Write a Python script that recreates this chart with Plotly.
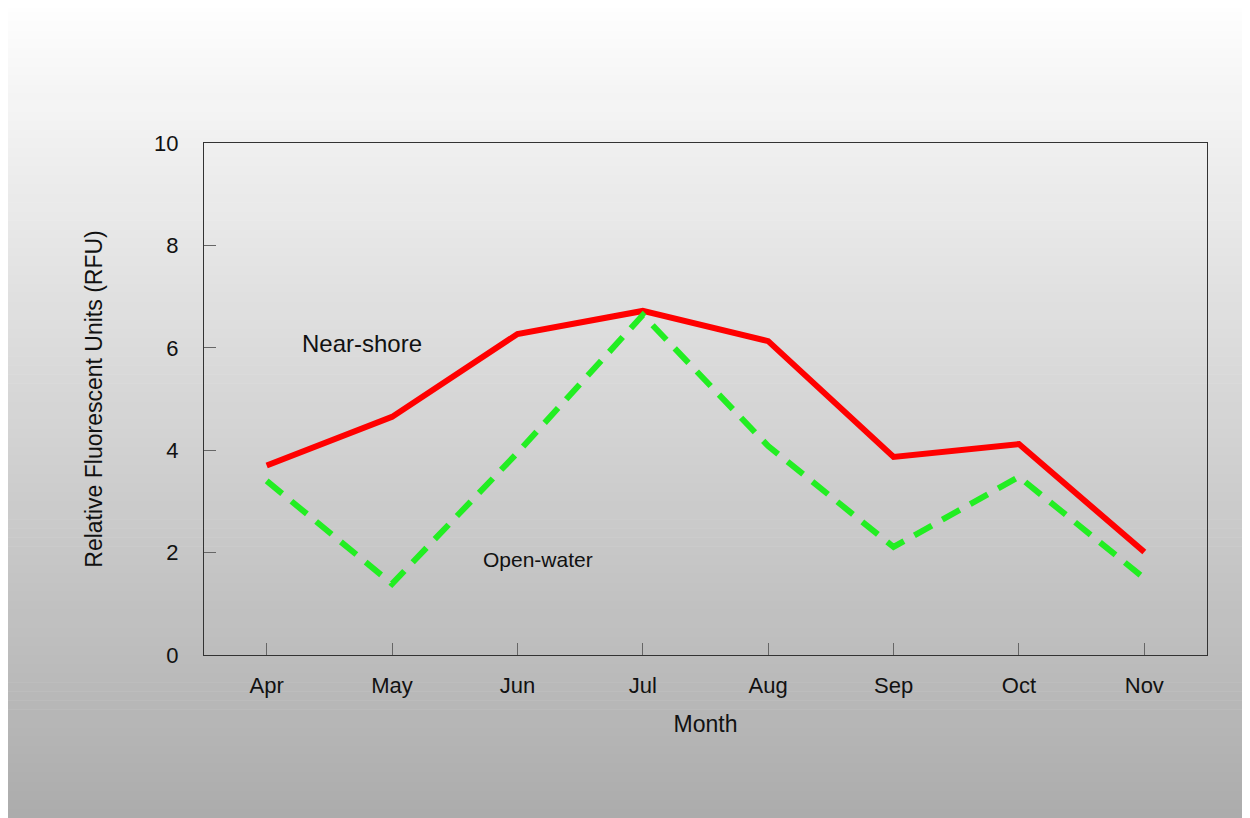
import plotly.graph_objects as go

# data
months = ["Apr", "May", "Jun", "Jul", "Aug", "Sep", "Oct", "Nov"]
near_shore = [3.70, 4.65, 6.27, 6.72, 6.13, 3.87, 4.12, 2.01]
open_water = [3.40, 1.39, 3.95, 6.64, 4.08, 2.11, 3.48, 1.50]

W, H = 1250, 818
OFF = 8  # page body margin
L, R, T, B = 204 - OFF, 51, 143 - OFF, 171
font = "Liberation Sans, Arial, sans-serif"

fig = go.Figure()

fig.add_trace(go.Scatter(x=months, y=near_shore, mode="lines", name="Near-shore",
                         line=dict(color="#ff0000", width=6)))
fig.add_trace(go.Scatter(x=months, y=open_water, mode="lines", name="Open-water",
                         line=dict(color="#22ee22", width=6, dash="20px,12px")))

# vertical grey gradient background, built from thin strips
pw = W - L - R
ph = H - T - B
def px_x(p):
    return (p - L) / pw
def px_y(p):
    return (H - B - p) / ph

n = 90
top_px, bot_px = -5, H - OFF
shapes = []
for i in range(n):
    y0 = top_px + (bot_px - top_px) * i / n
    y1 = top_px + (bot_px - top_px) * (i + 1) / n
    c = int(round(254 - 82 * (i + 0.5) / n))
    shapes.append(dict(type="rect", xref="paper", yref="paper",
                       x0=px_x(-2), x1=px_x(W + 2), y0=px_y(y1 + 0.5), y1=px_y(max(y0, -2)),
                       fillcolor=f"rgb({c},{c},{c})", line=dict(width=0), layer="below"))

fig.update_layout(
    width=W, height=H,
    margin=dict(l=L, r=R, t=T, b=B),
    paper_bgcolor="white",
    plot_bgcolor="rgba(0,0,0,0)",
    showlegend=False,
    shapes=shapes,
    font=dict(family=font, size=22, color="#111111"),
    annotations=[
        dict(x=px_x(362 - OFF), y=px_y(343 - OFF), xref="paper", yref="paper",
             xanchor="center", yanchor="middle",
             text="Near-shore", showarrow=False, font=dict(size=24, color="#111111")),
        dict(x=px_x(538 - OFF), y=px_y(559 - OFF), xref="paper", yref="paper",
             xanchor="center", yanchor="middle",
             text="Open-water", showarrow=False, font=dict(size=21, color="#111111")),
    ],
)

fig.update_xaxes(
    range=[-0.5, 7.5], showgrid=False, zeroline=False,
    showline=True, mirror=True, linecolor="#333333", linewidth=1,
    ticks="inside", ticklen=12, tickcolor="#666666", tickwidth=1,
    ticklabelstandoff=11,
    title=dict(text="Month", standoff=18, font=dict(size=23)),
    tickfont=dict(size=22),
)
fig.update_yaxes(
    range=[0, 10], dtick=2, showgrid=False, zeroline=False,
    showline=True, mirror=True, linecolor="#333333", linewidth=1,
    ticks="inside", ticklen=12, tickcolor="#666666", tickwidth=1,
    ticklabelstandoff=20,
    title=dict(text="Relative Fluorescent Units (RFU)", standoff=45, font=dict(size=23)),
    tickfont=dict(size=22),
)

fig.write_html("out.html")
